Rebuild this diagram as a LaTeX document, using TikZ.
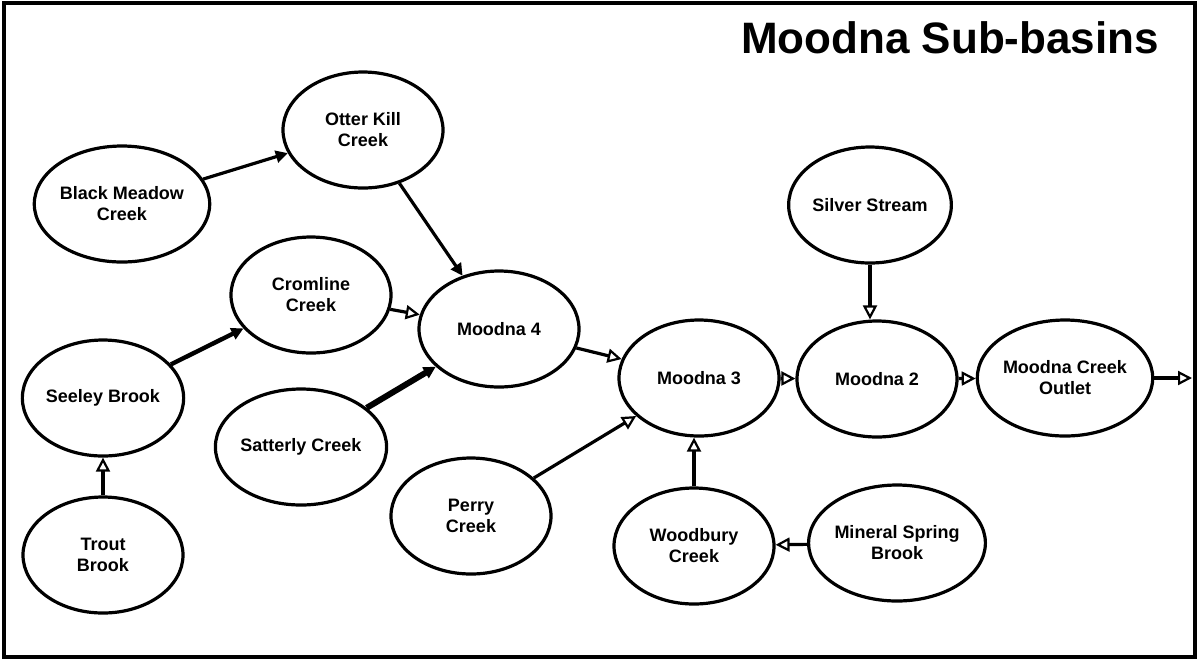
\documentclass[tikz,border=0pt]{standalone}
\usepackage{fontspec}
\setmainfont{Liberation Sans}
\usetikzlibrary{shapes,arrows.meta,positioning}

\begin{document}
\begin{tikzpicture}[x=0.5pt,y=-0.5pt]
    \tikzstyle{every path}=[line width=1.6pt]
    \tikzstyle{basin}=[draw,ellipse,inner sep=0pt,minimum width=80pt,minimum height=58pt,
      align=center,font=\bfseries\fontsize{9}{10.5}\selectfont]
    \tikzstyle{feeds}=[-{Triangle[length=6pt,width=6pt]}]
    \tikzstyle{flows}=[-{Triangle[open,length=7pt,width=7pt,line width=1.1pt]}]

    \useasboundingbox (0,0) rectangle (1199,661);
    \draw[line width=2pt] (4,3) rectangle (1195,657);
    \node[font=\bfseries\fontsize{22}{24}\selectfont] (title) at (950,38) {Moodna Sub-basins};

    % upper tributaries
    \node[basin] (otter)    at (363,130) {Otter Kill\\Creek};
    \node[basin] (black)    at (122,204) {Black Meadow\\Creek};
    \node[basin] (cromline) at (311,295) {Cromline\\Creek};
    \node[basin] (seeley)   at (103,398) {Seeley Brook};
    \node[basin] (trout)    at (103,555) {Trout\\Brook};
    \node[basin] (satterly) at (301,447) {Satterly Creek};
    \node[basin] (perry)    at (471,516) {Perry\\Creek};
    \node[basin] (silver)   at (870,205) {Silver Stream};
    \node[basin] (woodbury) at (694,546) {Woodbury\\Creek};
    \node[basin] (mineral)  at (897,543) {Mineral Spring\\Brook};

    % main stem
    \node[basin] (moodna4) at (499,329) {Moodna 4};
    \node[basin] (moodna3) at (699,378) {Moodna 3};
    \node[basin] (moodna2) at (877,379) {Moodna 2};
    \node[basin] (outlet)  at (1065,378) {Moodna Creek\\Outlet};
    \coordinate (mouth) at (1192,378);

    \draw[feeds] (black) -- (otter);
    \draw[feeds] (otter) -- (moodna4);
    \draw[feeds,line width=2.2pt] (seeley) -- (cromline);
    \draw[feeds,line width=3pt] (satterly) -- (moodna4);
    \draw[flows] (cromline) -- (moodna4);
    \draw[flows] (trout) -- (seeley);
    \draw[flows] (moodna4) -- (moodna3);
    \draw[flows] (perry) -- (moodna3);
    \draw[flows] (woodbury.north) -- (woodbury.north |- moodna3.south);
    \draw[flows] (mineral) -- (woodbury);
    \draw[flows] (moodna3) -- (moodna2);
    \draw[flows] (silver.south) -- (silver.south |- moodna2.north);
    \draw[flows] (moodna2) -- (outlet);
    \draw[flows] (outlet) -- (mouth);
\end{tikzpicture}
\end{document}
